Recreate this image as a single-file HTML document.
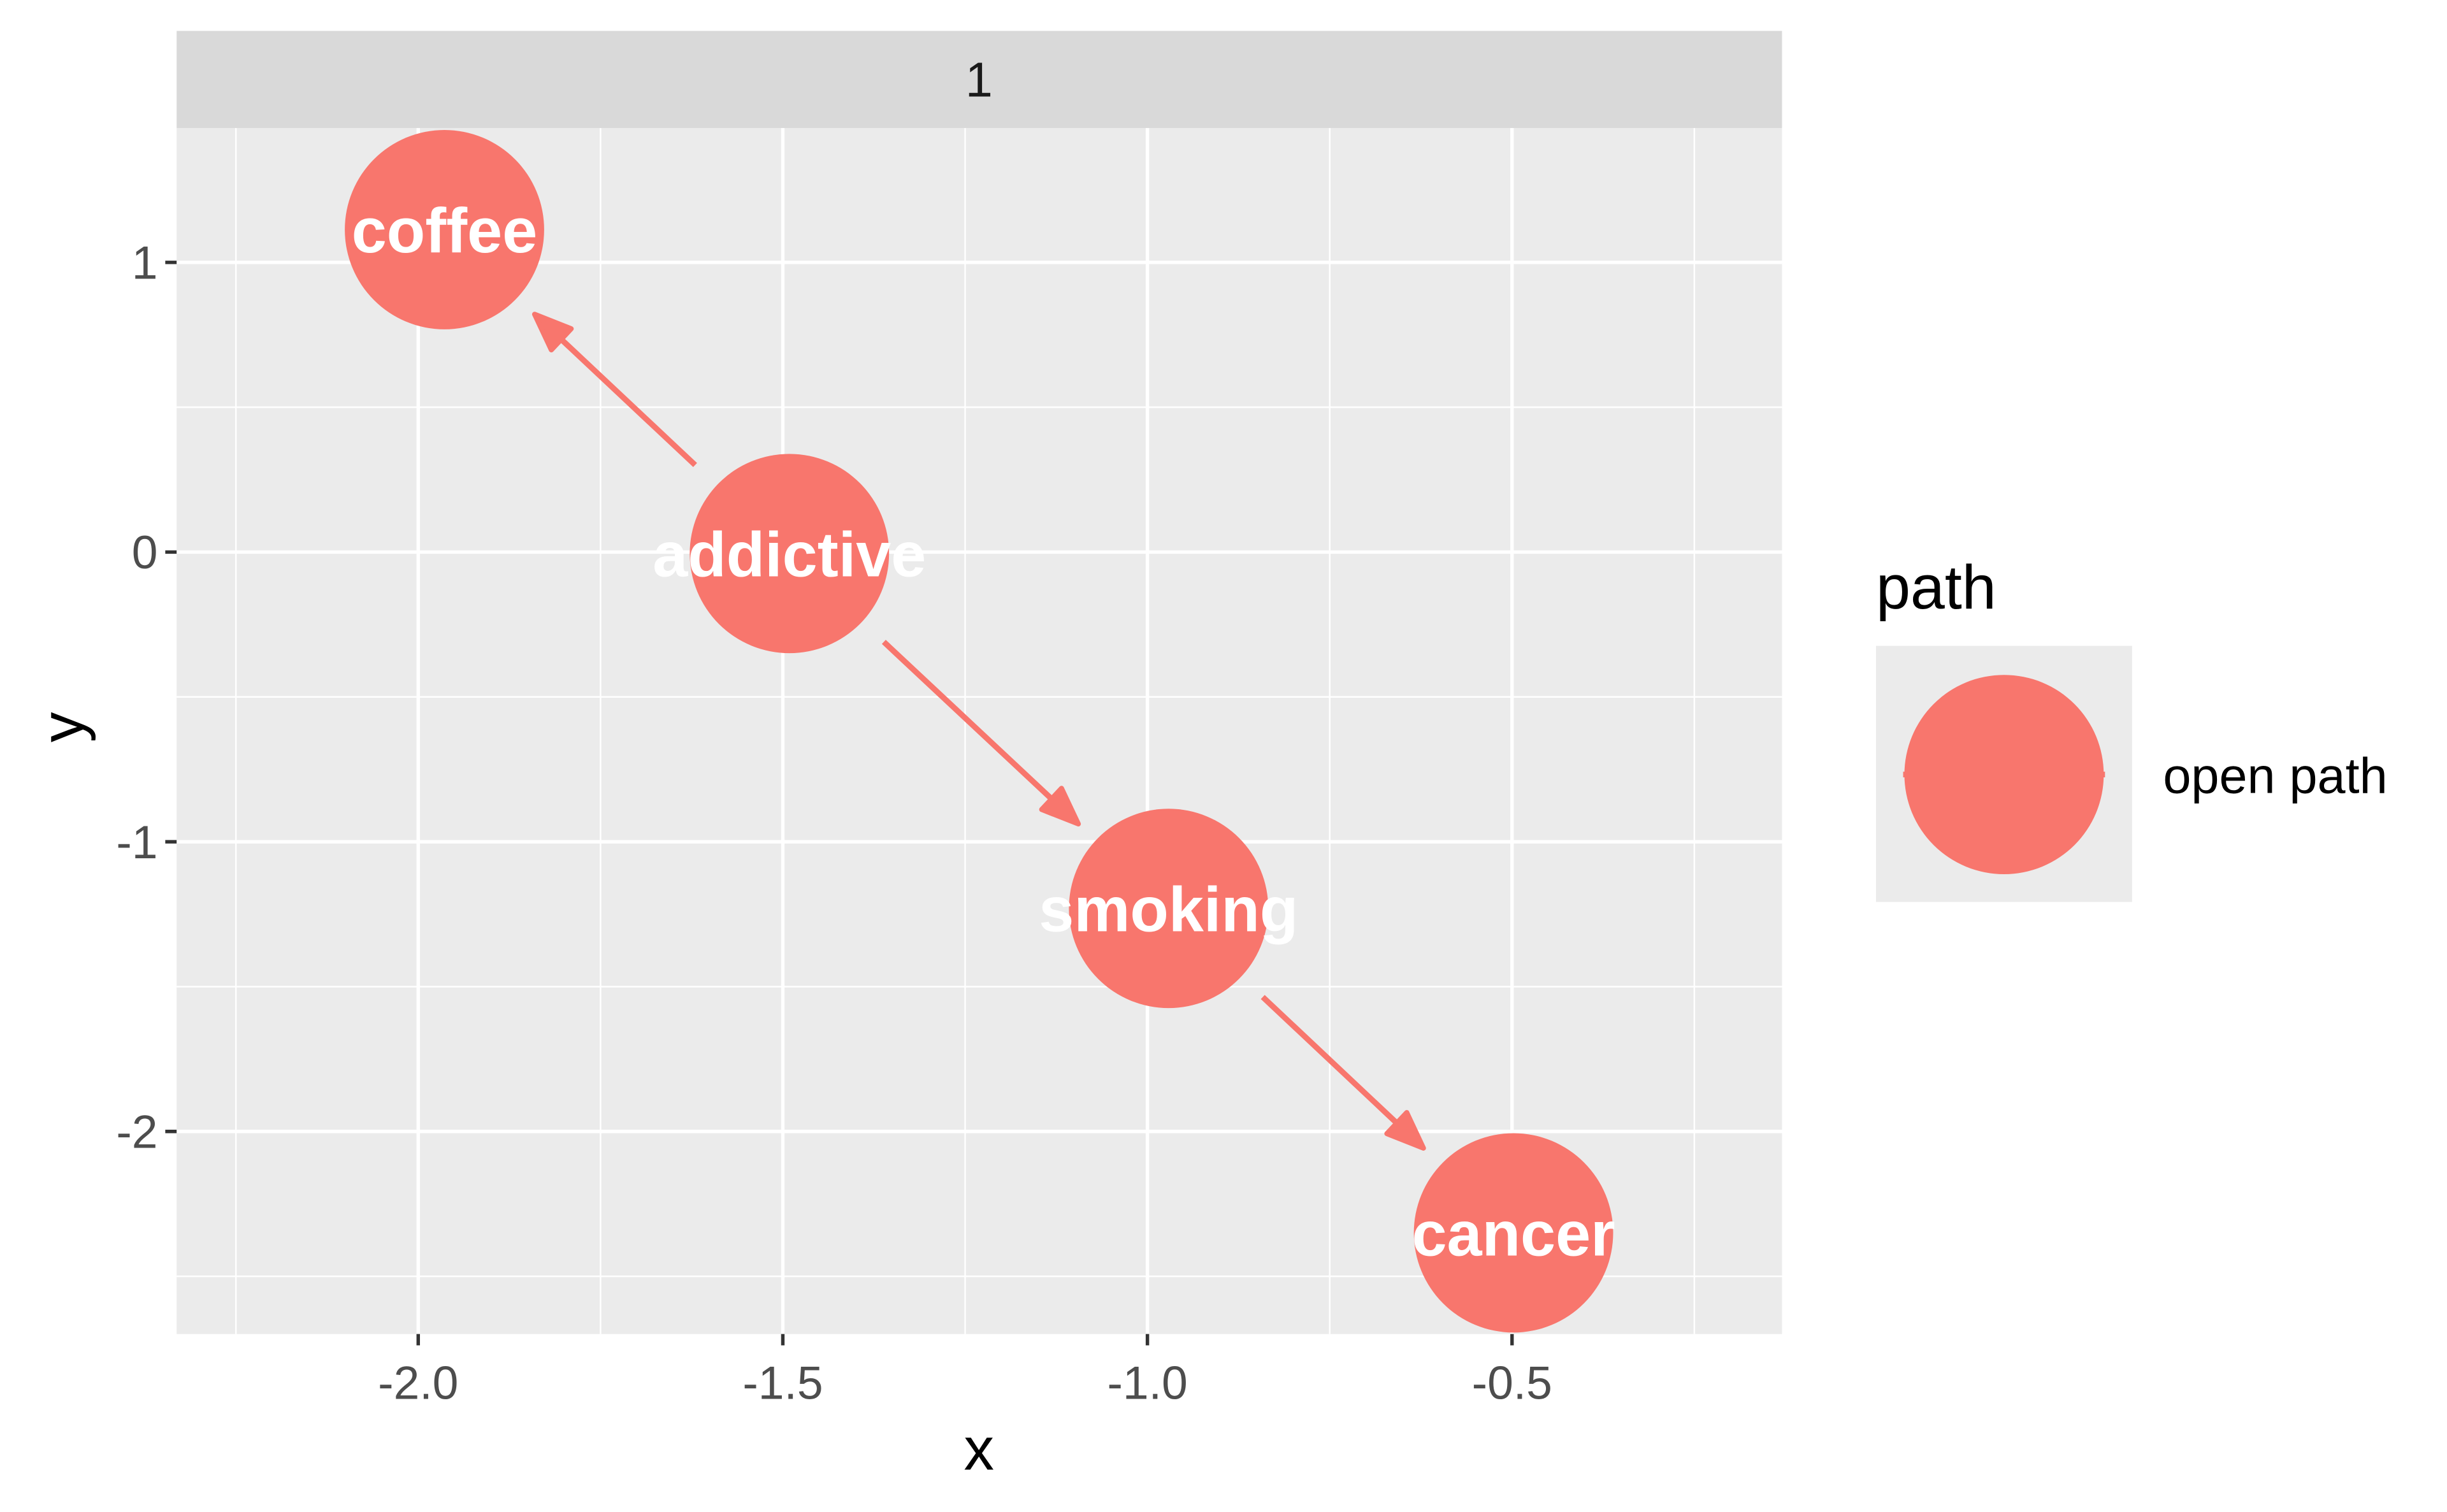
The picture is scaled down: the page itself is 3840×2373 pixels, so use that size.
<!DOCTYPE html>
<html><head><meta charset="utf-8"><style>
html,body{margin:0;padding:0;background:#fff;}
svg{display:block;font-family:"Liberation Sans",sans-serif;}
</style></head><body>
<svg id="chart" width="3840" height="2373" viewBox="0 0 3840 2373" xmlns="http://www.w3.org/2000/svg">
<rect x="0" y="0" width="3840" height="2373" fill="#fff"/>
<g transform="scale(0.9899)">
<rect x="280" y="49" width="2545" height="154" fill="#d9d9d9"/>
<text x="1552" y="153" font-size="78" text-anchor="middle" fill="#1a1a1a">1</text>
<rect x="280" y="203" width="2545" height="1912" fill="#ebebeb"/>
<g id="grid"></g>
<g id="edges"></g>
<g id="nodes"></g>
<g id="axes"></g>
<text x="1552" y="2330" font-size="96" text-anchor="middle" fill="#000">x</text>
<text x="0" y="0" font-size="96" text-anchor="middle" fill="#000" transform="translate(132,1153) rotate(-90)">y</text>
<g>
<text x="2974" y="965" font-size="98" fill="#000">path</text>
<rect x="2974" y="1024" width="406" height="406" fill="#ebebeb"/>
<line x1="3017" y1="1228" x2="3337" y2="1228" stroke="#f8766d" stroke-width="9"/>
<circle cx="3177" cy="1228" r="158" fill="#f8766d"/>
<text x="3429" y="1257" font-size="80" fill="#000">open path</text>
</g>
</g>
</svg>
<script>
const nodeNames = ["coffee","addictive","smoking","cancer"];
const nodeX = [-1.964,-1.491,-0.971,-0.498];
const nodeY = [1.113,-0.005,-1.23,-2.35];
const edgeFrom = [1,1,2];
const edgeTo = [0,2,3];
const xTicks = [-2.0,-1.5,-1.0,-0.5];
const xTickLabels = ["-2.0","-1.5","-1.0","-0.5"];
const xMinor = [-2.25,-1.75,-1.25,-0.75,-0.25];
const yTicks = [1,0,-1,-2];
const yTickLabels = ["1","0","-1","-2"];
const yMinor = [0.5,-0.5,-1.5,-2.5];

const NS="http://www.w3.org/2000/svg";
const L=280,R=2825,T=203,B=2115;
function sx(v){return 663+(v+2)*1156;}
function sy(v){return 416+(1-v)*459.3;}
function mk(tag,attrs,parent){const e=document.createElementNS(NS,tag);for(const k in attrs)e.setAttribute(k,attrs[k]);parent.appendChild(e);return e;}
const grid=document.getElementById('grid');
xMinor.forEach(v=>{const e=mk('line',{x1:sx(v),x2:sx(v),y1:T,y2:B,stroke:'#fff','stroke-width':2.5},grid);

});
yMinor.forEach(v=>{const e=mk('line',{x1:L,x2:R,y1:sy(v),y2:sy(v),stroke:'#fff','stroke-width':2.5},grid);

});
xTicks.forEach(v=>{const e=mk('line',{x1:sx(v),x2:sx(v),y1:T,y2:B,stroke:'#fff','stroke-width':5.5},grid);

});
yTicks.forEach(v=>{const e=mk('line',{x1:L,x2:R,y1:sy(v),y2:sy(v),stroke:'#fff','stroke-width':5.5},grid);

});
const axes=document.getElementById('axes');
xTicks.forEach((v,i)=>{
const t=mk('line',{x1:sx(v),x2:sx(v),y1:B,y2:B+18,stroke:'#333','stroke-width':5.5},axes);


const l=mk('text',{x:sx(v),y:2218,'font-size':74,'text-anchor':'middle',fill:'#4d4d4d'},axes);
l.textContent=xTickLabels[i];

});
yTicks.forEach((v,i)=>{
const t=mk('line',{x1:L-18,x2:L,y1:sy(v),y2:sy(v),stroke:'#333','stroke-width':5.5},axes);


const l=mk('text',{x:L-30,y:sy(v)+26,'font-size':74,'text-anchor':'end',fill:'#4d4d4d'},axes);
l.textContent=yTickLabels[i];

});
const edges=document.getElementById('edges');
edgeFrom.forEach((f,i)=>{
const t=edgeTo[i];
const x1=sx(nodeX[f]),y1=sy(nodeY[f]),x2=sx(nodeX[t]),y2=sy(nodeY[t]);
const dx=x2-x1,dy=y2-y1,d=Math.hypot(dx,dy),ux=dx/d,uy=dy/d;
const ax=x1+ux*205,ay=y1+uy*205,bx=x2-ux*196,by=y2-uy*196;
const g=mk('g',{},edges);


mk('line',{x1:ax,y1:ay,x2:bx-ux*20,y2:by-uy*20,stroke:'#f8766d','stroke-width':9},g);
const hl=58,hw=23,px=-uy,py=ux;
mk('polygon',{points:`${bx},${by} ${bx-ux*hl+px*hw},${by-uy*hl+py*hw} ${bx-ux*hl-px*hw},${by-uy*hl-py*hw}`,fill:'#f8766d',stroke:'#f8766d','stroke-width':8,'stroke-linejoin':'round'},g);
});
const nodes=document.getElementById('nodes');
nodeNames.forEach((n,i)=>{
const g=mk('g',{},nodes);


mk('circle',{cx:sx(nodeX[i]),cy:sy(nodeY[i]),r:158,fill:'#f8766d'},g);
const t=mk('text',{x:sx(nodeX[i]),y:sy(nodeY[i])+36,'font-size':100,'font-weight':'bold','text-anchor':'middle',fill:'#fff'},g);
t.textContent=n;


});
</script>
</body></html>
